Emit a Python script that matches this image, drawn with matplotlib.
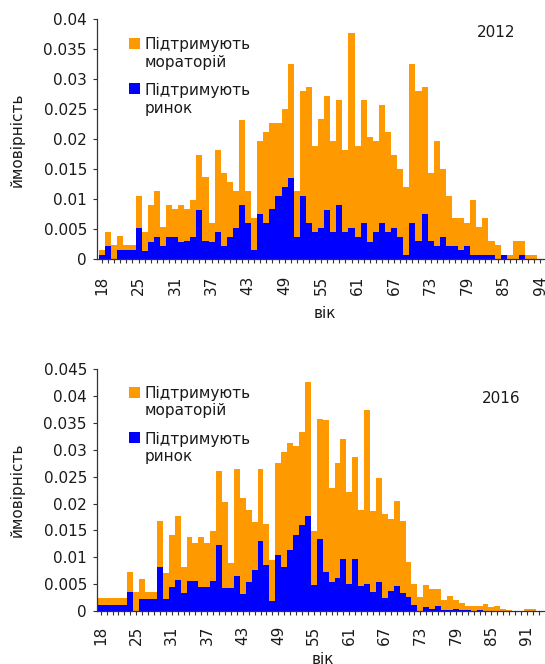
import matplotlib
matplotlib.use('Agg')
import matplotlib.pyplot as plt
from matplotlib.patches import Rectangle
from matplotlib.ticker import FuncFormatter, FixedLocator
import numpy as np

plt.rcParams['font.family'] = ['DejaVu Sans']

# ---------------- data ----------------
ages_2012 = [18, 20, 21, 22, 23, 24, 25, 26, 27, 28, 29, 30, 31, 32, 33, 34, 35, 36,
             37, 38, 39, 40, 41, 42, 43, 44, 45, 46, 47, 48, 49, 50, 51, 52, 53, 54,
             55, 56, 57, 58, 59, 60, 61, 62, 63, 64, 65, 66, 67, 68, 69, 70, 71, 72,
             73, 74, 75, 76, 77, 78, 79, 80, 81, 82, 83, 84, 85, 86, 87, 88, 89, 91, 94]
moratorium_2012 = [0.0016, 0.0046, 0.0024, 0.0039, 0.0024, 0.0024, 0.0106, 0.0046, 0.0091,
                   0.0114, 0.0054, 0.0091, 0.0084, 0.0091, 0.0084, 0.0099, 0.0174, 0.0137,
                   0.0061, 0.0182, 0.0144, 0.0129, 0.0114, 0.0232, 0.0114, 0.0069, 0.0197,
                   0.0212, 0.0227, 0.0227, 0.0251, 0.0326, 0.0114, 0.0281, 0.0287, 0.0189,
                   0.0234, 0.0272, 0.0197, 0.0266, 0.0182, 0.0377, 0.0189, 0.0266, 0.0204,
                   0.0197, 0.0257, 0.0212, 0.0174, 0.0151, 0.0121, 0.0326, 0.0281, 0.0287,
                   0.0144, 0.0197, 0.0151, 0.0106, 0.0069, 0.0069, 0.0061, 0.0099, 0.0054,
                   0.0069, 0.0031, 0.0024, 0.0, 0.0008, 0.0031, 0.0031, 0.0008, 0.0008, 0.0]
market_2012 = [0.0007, 0.0023, 0.0, 0.0016, 0.0016, 0.0016, 0.0053, 0.0014, 0.0029,
               0.0038, 0.0023, 0.0038, 0.0038, 0.0029, 0.0031, 0.0038, 0.0082, 0.0031,
               0.0029, 0.0046, 0.0023, 0.0038, 0.0053, 0.0091, 0.0061, 0.0016, 0.0076,
               0.0061, 0.0084, 0.0106, 0.0121, 0.0136, 0.0038, 0.0106, 0.0061, 0.0046,
               0.0053, 0.0082, 0.0046, 0.0091, 0.0046, 0.0053, 0.0038, 0.0061, 0.0029,
               0.0046, 0.0061, 0.0046, 0.0053, 0.0038, 0.0008, 0.0061, 0.0031, 0.0076,
               0.0031, 0.0023, 0.0038, 0.0023, 0.0023, 0.0016, 0.0023, 0.0008, 0.0008,
               0.0008, 0.0008, 0.0, 0.0008, 0.0, 0.0, 0.0008, 0.0, 0.0, 0.0]

ages_2016 = [18, 20, 21, 22, 23, 24, 25, 26, 27, 28, 29, 30, 31, 32, 33, 34, 35, 36,
             37, 38, 39, 40, 41, 42, 43, 44, 45, 46, 47, 48, 49, 50, 51, 52, 53, 54,
             55, 56, 57, 58, 59, 60, 61, 62, 63, 64, 65, 66, 67, 68, 69, 70, 71, 72,
             73, 74, 75, 76, 77, 78, 79, 80, 81, 82, 83, 84, 85, 86, 87, 88, 89, 90,
             91, 92, 93]
moratorium_2016 = [0.0024, 0.0024, 0.0024, 0.0024, 0.0024, 0.0073, 0.0035, 0.0060, 0.0035,
                   0.0035, 0.0168, 0.0071, 0.0142, 0.0177, 0.0082, 0.0138, 0.0127, 0.0138,
                   0.0127, 0.0149, 0.0261, 0.0203, 0.0089, 0.0265, 0.0211, 0.0188, 0.0166,
                   0.0265, 0.0162, 0.0095, 0.0275, 0.0296, 0.0313, 0.0308, 0.0334, 0.0427,
                   0.0149, 0.0358, 0.0356, 0.0229, 0.0276, 0.0321, 0.0222, 0.0287, 0.0188,
                   0.0375, 0.0186, 0.0248, 0.0181, 0.0171, 0.0205, 0.0168, 0.0091, 0.0050,
                   0.0026, 0.0048, 0.0041, 0.0041, 0.0020, 0.0028, 0.0020, 0.0015, 0.0009,
                   0.0009, 0.0009, 0.0013, 0.0007, 0.0009, 0.0004, 0.0002, 0.0, 0.0,
                   0.0004, 0.0004, 0.0]
market_2016 = [0.0012, 0.0012, 0.0012, 0.0012, 0.0012, 0.0035, 0.0, 0.0022, 0.0022,
               0.0022, 0.0082, 0.0022, 0.0045, 0.0058, 0.0034, 0.0056, 0.0056, 0.0045,
               0.0045, 0.0056, 0.0123, 0.0043, 0.0043, 0.0065, 0.0032, 0.0054, 0.0076,
               0.0130, 0.0086, 0.0019, 0.0104, 0.0082, 0.0114, 0.0142, 0.0160, 0.0177,
               0.0048, 0.0134, 0.0073, 0.0054, 0.0062, 0.0097, 0.0050, 0.0097, 0.0047,
               0.0050, 0.0035, 0.0054, 0.0024, 0.0037, 0.0047, 0.0034, 0.0026, 0.0011,
               0.0, 0.0008, 0.0004, 0.0009, 0.0002, 0.0002, 0.0004, 0.0002, 0.0002,
               0.0, 0.0002, 0.0, 0.0, 0.0, 0.0, 0.0, 0.0, 0.0, 0.0, 0.0, 0.0]

label_moratorium = ['Підтримують', 'мораторій']
label_market = ['Підтримують', 'ринок']
xlabel = 'вік'
ylabel = 'ймовірність'

ORANGE = '#FF9900'
BLUE = '#0000FF'
TXT = '#1a1a1a'
FS = 11

W, H = 545, 664
fig = plt.figure(figsize=(W / 100, H / 100), dpi=100)


def fx(px):
    return px / W


def fy(py):
    return 1 - py / H


def panel(ages, mor, mkt, year, top_px, bot_px, ymax, xleft, pxw, pad, off):
    left_px, right_px = 96.7, 546
    ax = fig.add_axes([fx(left_px), fy(bot_px), (right_px - left_px) / W,
                       (bot_px - top_px) / H])
    x = np.arange(len(ages))
    ax.bar(x, mor, width=1.0, color=ORANGE, linewidth=0, antialiased=False, zorder=2)
    ax.bar(x, mkt, width=1.0, color=BLUE, linewidth=0, antialiased=False, zorder=3)
    ax.set_xlim(xleft, xleft + (right_px - left_px) / pxw)
    ax.set_ylim(0, ymax)
    for s in ['top', 'right']:
        ax.spines[s].set_visible(False)
    for s in ['left', 'bottom']:
        ax.spines[s].set_color('#333333')
        ax.spines[s].set_linewidth(0.9)
    ax.spines['bottom'].set_zorder(5)
    ax.set_yticks(np.arange(0, ymax + 1e-9, 0.005))
    ax.yaxis.set_major_formatter(FuncFormatter(lambda v, p: '0' if abs(v) < 1e-12 else f'{v:g}'))
    ax.set_xticks(x)
    ax.set_xticklabels([str(a) if i % 6 == 0 else '' for i, a in enumerate(ages)],
                       rotation=90)
    ax.tick_params(axis='x', length=3, width=0.8, color='#333333', pad=pad,
                   labelsize=FS, labelcolor=TXT)
    ax.tick_params(axis='y', length=3, width=0.8, color='#333333', pad=4,
                   labelsize=FS, labelcolor=TXT)
    ax.set_facecolor('none')

    # legend (manual)
    sq = 11
    fig.add_artist(Rectangle((fx(129.3), fy(37.7 + off + sq)), sq / W, sq / H,
                             transform=fig.transFigure, color=ORANGE, lw=0))
    fig.add_artist(Rectangle((fx(129.3), fy(83.3 + off + sq)), sq / W, sq / H,
                             transform=fig.transFigure, color=BLUE, lw=0))
    fig.text(fx(145), fy(49.3 + off), label_moratorium[0], fontsize=FS, color=TXT, va='baseline')
    fig.text(fx(145), fy(66.5 + off), label_moratorium[1], fontsize=FS, color=TXT, va='baseline')
    fig.text(fx(145), fy(95.3 + off), label_market[0], fontsize=FS, color=TXT, va='baseline')
    fig.text(fx(145), fy(112.5 + off), label_market[1], fontsize=FS, color=TXT, va='baseline')
    return ax


panel(ages_2012, moratorium_2012, market_2012, '2012', 19.3, 259.3, 0.04, -0.88, 6.085, 9.0, 0)
panel(ages_2016, moratorium_2016, market_2016, '2016', 369.2, 611.0, 0.045, -0.67, 5.92, 7.6, 349.0)

fig.text(fx(496), fy(36.7), '2012', fontsize=FS, color=TXT, ha='center', va='baseline')
fig.text(fx(501), fy(402.7), '2016', fontsize=FS, color=TXT, ha='center', va='baseline')

fig.text(fx(17.5), fy(139.3), ylabel, rotation=90, fontsize=FS, color=TXT, ha='center', va='center')
fig.text(fx(17.5), fy(490.1), ylabel, rotation=90, fontsize=FS, color=TXT, ha='center', va='center')
fig.text(fx(324.6), fy(313.5), xlabel, fontsize=FS, color=TXT, ha='center', va='center')
fig.text(fx(322.5), fy(659.5), xlabel, fontsize=FS, color=TXT, ha='center', va='center')

fig.savefig('out.png', dpi=100)
